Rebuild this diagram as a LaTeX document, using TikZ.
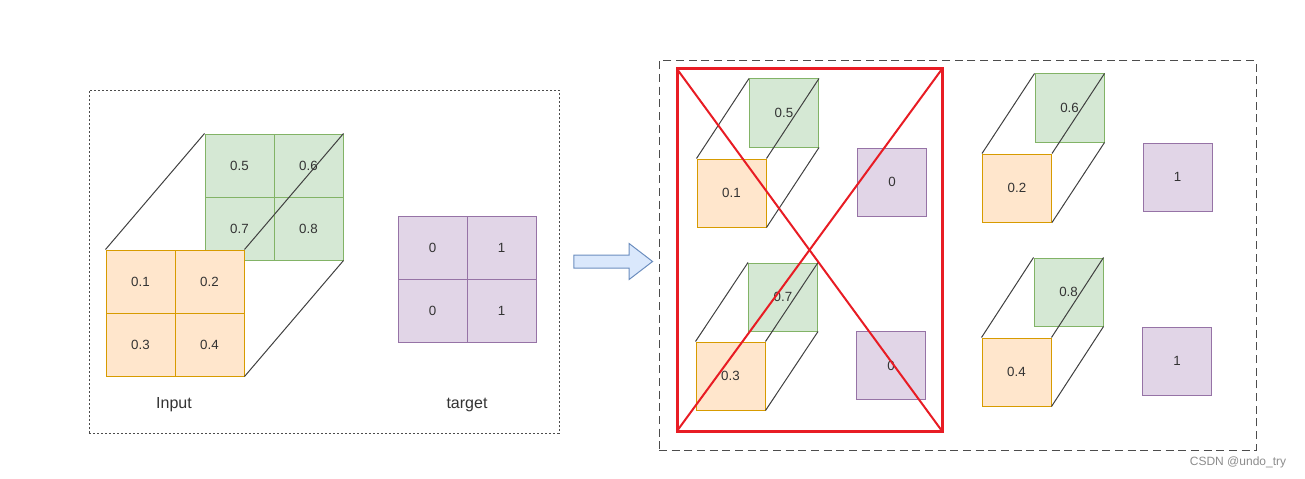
\documentclass[tikz,border=0pt]{standalone}
\usepackage{fontspec}
\setmainfont{Liberation Sans}
\usetikzlibrary{shapes.arrows}
\definecolor{frontfill}{HTML}{FFE6CC}
\definecolor{frontline}{HTML}{D79B00}
\definecolor{backfill}{HTML}{D5E8D4}
\definecolor{backline}{HTML}{82B366}
\definecolor{tgtfill}{HTML}{E1D5E7}
\definecolor{tgtline}{HTML}{9673A6}
\definecolor{arrfill}{HTML}{DAE8FC}
\definecolor{arrline}{HTML}{6C8EBF}
\definecolor{crossred}{HTML}{E81C24}
\definecolor{txtgray}{HTML}{333333}
\begin{document}
\begin{tikzpicture}[
  x=0.75pt, y=-0.75pt,
  cell/.style={rectangle, line width=0.75pt, inner sep=0pt, text=txtgray,
               minimum width=51.75pt, minimum height=47.25pt,
               font=\fontsize{10}{12}\selectfont},
  sq/.style={minimum height=51pt},
  frontcell/.style={cell, draw=frontline, fill=frontfill},
  backcell/.style={cell, draw=backline, fill=backfill},
  tgtcell/.style={cell, draw=tgtline, fill=tgtfill},
  cubeline/.style={draw=black!75, line width=0.75pt},
  label/.style={font=\fontsize{12}{14}\selectfont, text=txtgray},
  groupbox/.style={rectangle, draw=black!70, line width=0.75pt, inner sep=0pt},
  redbox/.style={rectangle, draw=crossred, line width=2.25pt, inner sep=0pt,
                 outer sep=0pt, minimum width=198.75pt, minimum height=271.5pt},
  redline/.style={crossred, line width=1.5pt}
]
  \useasboundingbox (0,0) rectangle (1305,478);

  % Rahmen
  \node[groupbox, dash pattern=on 1.5pt off 1.5pt, minimum width=352.5pt,
        minimum height=257.25pt] (leftbox) at (324,261.5) {};
  \node[groupbox, dash pattern=on 6pt off 3.5pt, minimum width=447.75pt,
        minimum height=291.75pt] (rightbox) at (957.5,255.5) {};

  % Input
  \node[backcell] (c05) at (239.5,165.5) {0.5};
  \node[backcell] (c06) at (308.5,165.5) {0.6};
  \node[backcell] (c07) at (239.5,228.5) {0.7};
  \node[backcell] (c08) at (308.5,228.5) {0.8};
  \node[frontcell] (c01) at (140.5,281.5) {0.1};
  \node[frontcell] (c02) at (209.5,281.5) {0.2};
  \node[frontcell] (c03) at (140.5,344.5) {0.3};
  \node[frontcell] (c04) at (209.5,344.5) {0.4};
  \draw[cubeline] (c01.north west) -- (c05.north west);
  \draw[cubeline] (c02.north east) -- (c06.north east);
  \draw[cubeline] (c04.south east) -- (c08.south east);

  % target
  \node[tgtcell] (t11) at (432.5,247.5) {0};
  \node[tgtcell] (t12) at (501.5,247.5) {1};
  \node[tgtcell] (t21) at (432.5,310.5) {0};
  \node[tgtcell] (t22) at (501.5,310.5) {1};

  \node[label] (inlabel) at (174,405) {Input};
  \node[label] (tgtlabel) at (467,405) {target};

  \node[single arrow, draw=arrline, fill=arrfill, line width=0.75pt,
        minimum height=59pt, minimum width=26.25pt, inner sep=4.5pt,
        single arrow head extend=8.6pt, single arrow tip angle=75]
        (split) at (609,261.5) {};

  % einzelne Pixel
  \node[backcell, sq] (s05) at (784,113) {0.5};
  \node[frontcell, sq] (s01) at (731.5,193) {0.1};
  \node[tgtcell, sq] (u1) at (892,182) {0};
  \draw[cubeline] (s01.north west) -- (s05.north west);
  \draw[cubeline] (s01.north east) -- (s05.north east);
  \draw[cubeline] (s01.south east) -- (s05.south east);

  \node[backcell, sq] (s07) at (783,297) {0.7};
  \node[frontcell, sq] (s03) at (730.5,376) {0.3};
  \node[tgtcell, sq] (u3) at (891,365.5) {0};
  \draw[cubeline] (s03.north west) -- (s07.north west);
  \draw[cubeline] (s03.north east) -- (s07.north east);
  \draw[cubeline] (s03.south east) -- (s07.south east);

  \node[backcell, sq] (s06) at (1069.5,108) {0.6};
  \node[frontcell, sq] (s02) at (1017,188) {0.2};
  \node[tgtcell, sq] (u2) at (1177.5,177) {1};
  \draw[cubeline] (s02.north west) -- (s06.north west);
  \draw[cubeline] (s02.north east) -- (s06.north east);
  \draw[cubeline] (s02.south east) -- (s06.south east);

  \node[backcell, sq] (s08) at (1068.5,292) {0.8};
  \node[frontcell, sq] (s04) at (1016.5,372) {0.4};
  \node[tgtcell, sq] (u4) at (1177,361) {1};
  \draw[cubeline] (s04.north west) -- (s08.north west);
  \draw[cubeline] (s04.north east) -- (s08.north east);
  \draw[cubeline] (s04.south east) -- (s08.south east);

  % verworfen
  \node[redbox] (cross) at (809.5,250) {};
  \draw[redline] (cross.north west) -- (cross.south east);
  \draw[redline] (cross.north east) -- (cross.south west);

  \node[font=\fontsize{9}{11}\selectfont, text=black!45] (mark) at (1238,462) {CSDN @undo\_try};
\end{tikzpicture}
\end{document}
